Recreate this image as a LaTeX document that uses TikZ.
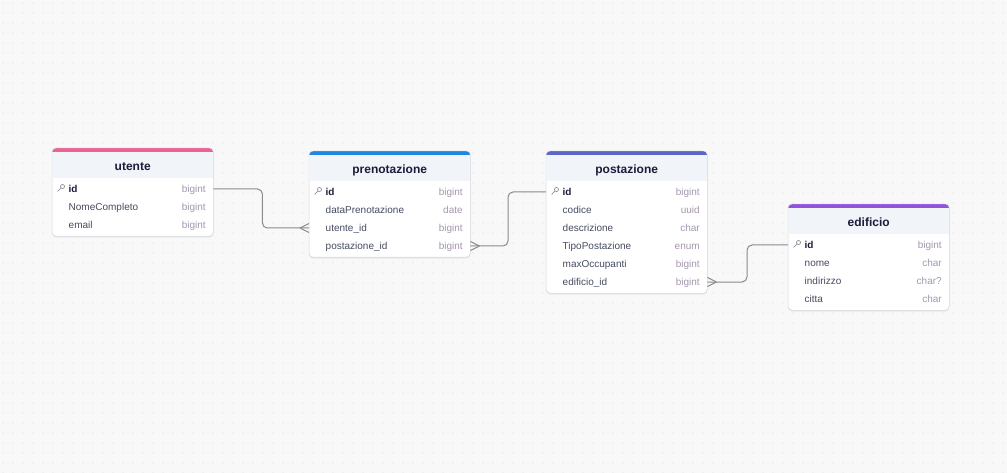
\documentclass[tikz,border=0pt]{standalone}
\usepackage{fontspec}
\setmainfont{Liberation Sans}
\usetikzlibrary{calc, shadows}

\definecolor{canvas}{HTML}{F8F8F8}
\definecolor{griddot}{HTML}{DADADA}
\definecolor{boxline}{HTML}{DCDDE3}
\definecolor{headbg}{HTML}{F1F4F9}
\definecolor{titlecol}{HTML}{1C1D3B}
\definecolor{namecol}{HTML}{464B60}
\definecolor{typecol}{HTML}{A597AE}
\definecolor{relcol}{HTML}{8A8A8A}
\definecolor{utentecol}{HTML}{EC6290}
\definecolor{prenotazionecol}{HTML}{2186E0}
\definecolor{postazionecol}{HTML}{5B66C6}
\definecolor{edificiocol}{HTML}{9152DC}

\tikzset{
  tablebox/.style={draw=boxline, fill=white, rounded corners=4pt, inner sep=0pt,
    minimum width=161pt, anchor=north west,
    drop shadow={shadow xshift=0pt, shadow yshift=-1.5pt, opacity=0.12}},
  tabletitle/.style={font=\bfseries\fontsize{12}{14}\selectfont, text=titlecol,
    anchor=base, inner sep=0pt},
  fname/.style={font=\fontsize{10}{12}\selectfont, text=namecol, anchor=base west,
    inner sep=0pt, text height=7pt, text depth=0pt},
  keyname/.style={fname, font=\bfseries\fontsize{10}{12}\selectfont, text=titlecol},
  ftype/.style={font=\fontsize{10}{12}\selectfont, text=typecol, anchor=base east,
    inner sep=0pt, text height=7pt, text depth=0pt},
  keyicon/.style={draw=typecol!80!black, line width=0.6pt},
  rel/.style={draw=relcol, line width=1pt, rounded corners=5pt},
  crowfoot/.pic={\draw[rel] (-9,0) -- (0,-4.5) (-9,0) -- (0,4.5);}
}

% table frame with coloured bar and header
\newcommand{\ertable}[6]{%
  \node[tablebox, minimum height=#5] (#1) at (#2,#3) {};
  \begin{scope}
    \clip[rounded corners=4pt] (#1.north west) rectangle (#1.south east);
    \fill[headbg] (#1.north west) rectangle ($(#1.north east)+(0,30)$);
    \fill[#1col] (#1.north west) rectangle ($(#1.north east)+(0,4)$);
  \end{scope}
  \draw[boxline, rounded corners=4pt] (#1.north west) rectangle (#1.south east);
  \node[tabletitle] (#1-title) at ($(#1.north)+(0,23)$) {#6};
}
% one column of a table: table, row, node name, text, type
\newcommand{\field}[5]{%
  \node[fname] (#1-#3) at ($(#1.north west)+(16.5,44.5+18*#2)$) {#4};
  \node[ftype] (#1-#3-type) at ($(#1.north east)+(-7.5,44.5+18*#2)$) {#5};
}
\newcommand{\keyfield}[1]{%
  \node[keyname] (#1-id) at ($(#1.north west)+(16.5,44.5)$) {id};
  \node[ftype] (#1-id-type) at ($(#1.north east)+(-7.5,44.5)$) {bigint};
  \draw[keyicon] ($(#1.north west)+(10.5,38.5)$) circle (2) ++(-1.4,1.4) -- ++(-3.6,3.6);
}

\begin{document}
\begin{tikzpicture}[x=1pt, y=-1pt]
  \useasboundingbox (0,0) rectangle (1007,473);
  \fill[canvas] (0,0) rectangle (1007,473);
  % dotted canvas
  \foreach \x in {3,13,...,1003}
    \foreach \y in {3,13,...,473}
      \fill[griddot] (\x,\y) circle (0.7);

  % tables
  \ertable{utente}{52}{148}{161}{88pt}{utente}
  \keyfield{utente}
  \field{utente}{1}{nome}{NomeCompleto}{bigint}
  \field{utente}{2}{email}{email}{bigint}

  \ertable{prenotazione}{309}{151}{161}{106pt}{prenotazione}
  \keyfield{prenotazione}
  \field{prenotazione}{1}{data}{dataPrenotazione}{date}
  \field{prenotazione}{2}{utente}{utente\_id}{bigint}
  \field{prenotazione}{3}{postazione}{postazione\_id}{bigint}

  \ertable{postazione}{546}{151}{161}{142pt}{postazione}
  \keyfield{postazione}
  \field{postazione}{1}{codice}{codice}{uuid}
  \field{postazione}{2}{descrizione}{descrizione}{char}
  \field{postazione}{3}{tipo}{TipoPostazione}{enum}
  \field{postazione}{4}{max}{maxOccupanti}{bigint}
  \field{postazione}{5}{edificio}{edificio\_id}{bigint}

  \ertable{edificio}{788}{204}{161}{106pt}{edificio}
  \keyfield{edificio}
  \field{edificio}{1}{nome}{nome}{char}
  \field{edificio}{2}{indirizzo}{indirizzo}{char?}
  \field{edificio}{3}{citta}{citta}{char}

  % relations
  \draw[rel] (utente.east |- utente-id) -- ++(49,0) |- (prenotazione.west |- prenotazione-utente);
  \draw[rel] (postazione.west |- postazione-id) -- ++(-38,0) |- (prenotazione.east |- prenotazione-postazione);
  \draw[rel] (edificio.west |- edificio-id) -- ++(-41,0) |- (postazione.east |- postazione-edificio);
  % crow's feet
  \pic at (prenotazione.west |- prenotazione-utente) {crowfoot};
  \pic[xscale=-1] at (prenotazione.east |- prenotazione-postazione) {crowfoot};
  \pic[xscale=-1] at (postazione.east |- postazione-edificio) {crowfoot};
\end{tikzpicture}
\end{document}
